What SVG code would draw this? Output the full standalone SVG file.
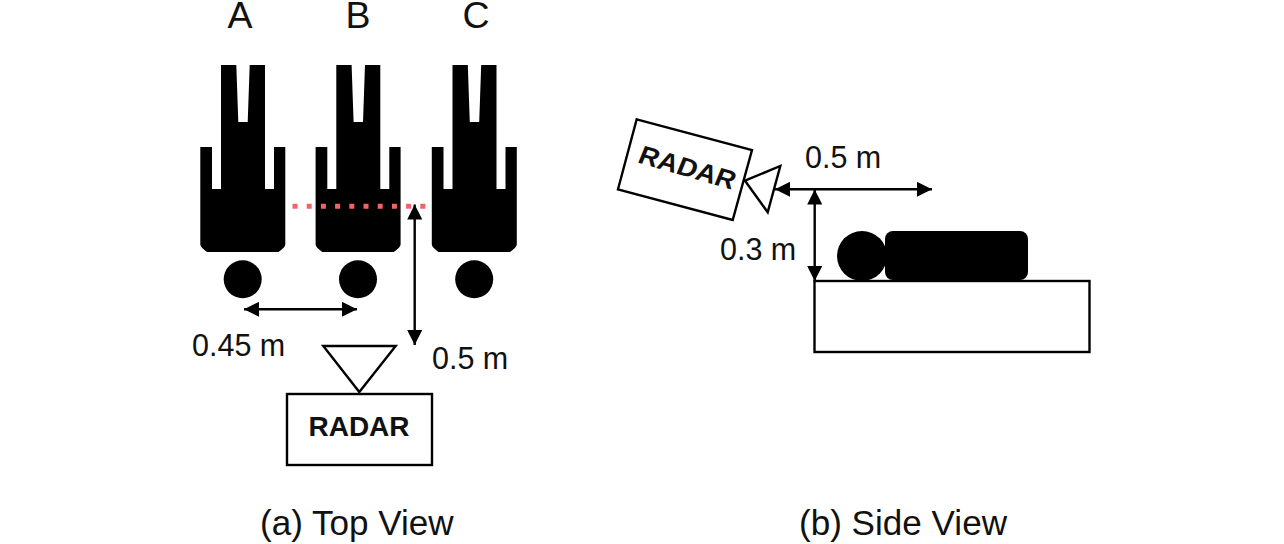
<svg xmlns="http://www.w3.org/2000/svg" xmlns:xlink="http://www.w3.org/1999/xlink" width="1284" height="544" viewBox="0 0 1284 544">
<style>
text{font-family:"Liberation Sans",Arial,sans-serif;fill:#111}
.lab{font-size:30.5px}
.cap{font-size:35.1px}
.top{font-size:37.5px}
.rad{font-size:28px;font-weight:700}
.box{fill:#fff;stroke:#000;stroke-width:2.4}
.con{fill:none;stroke:#000;stroke-width:2.4;marker-start:url(#ah);marker-end:url(#ah)}
</style>
<defs>
<marker id="ah" viewBox="0 0 15 15" refX="15" refY="7.5" markerWidth="15" markerHeight="15" markerUnits="userSpaceOnUse" orient="auto-start-reverse"><path d="M0 0L15 7.5L0 15Z" fill="#000"/></marker>
<g id="person">
<path d="M221 65H236.3L238.3 122H247.7L249.7 65H265V189H274V147H285.3V244.5Q285.3 247 278.5 252H207Q200.3 247 200.3 244.5V147H212V189H221Z" fill="#000"/>
<circle cx="242.7" cy="279.3" r="19" fill="#000"/>
</g>
</defs>
<g id="person-a"><use xlink:href="#person"/><text class="top" x="240" y="28" text-anchor="middle">A</text></g>
<g id="person-b"><use xlink:href="#person" x="115.3"/><text class="top" x="358" y="28" text-anchor="middle">B</text></g>
<g id="person-c"><use xlink:href="#person" x="231.5"/><text class="top" x="476" y="28" text-anchor="middle">C</text></g>
<g id="range-line"><line x1="292.5" y1="206.3" x2="426" y2="206.3" stroke="#f26464" stroke-width="5" stroke-dasharray="5 9.2"/></g>
<g id="radar-top">
<path class="box" d="M323.3 346H395.7L359.3 392Z"/>
<rect class="box" x="287" y="394" width="145" height="71"/>
<text class="rad" x="359" y="436" text-anchor="middle">RADAR</text>
</g>
<g id="radar-side">
<path class="box" d="M745 180.7L780.3 166L767.7 212.3Z"/>
<path class="box" d="M636.7 119.3L752 150L732.7 220L618 189.3Z"/>
<text class="rad" x="0" y="0" text-anchor="middle" style="font-size:27.5px" transform="translate(684.2 176) rotate(16) skewX(-6) scale(1 .95)">RADAR</text>
</g>
<g id="patient"><circle cx="862" cy="256" r="25" fill="#000"/><rect x="885" y="231" width="143" height="49" rx="8" fill="#000"/></g>
<g id="bed"><rect class="box" x="814.5" y="281" width="275" height="71"/></g>
<g id="connectors">
<line class="con" x1="244" y1="309.3" x2="357" y2="309.3"/>
<line class="con" x1="414.7" y1="204.5" x2="414.7" y2="345"/>
<line class="con" x1="775" y1="189.3" x2="932" y2="189.3"/>
<line class="con" x1="814.7" y1="189.5" x2="814.7" y2="281"/>
</g>
<g id="labels">
<text class="lab" x="192" y="356">0.45 m</text>
<text class="lab" x="432" y="369">0.5 m</text>
<text class="lab" x="805" y="168">0.5 m</text>
<text class="lab" x="720" y="260">0.3 m</text>
<text class="cap" x="260" y="535">(a) Top View</text>
<text class="cap" x="799" y="535">(b) Side View</text>
</g>
</svg>
